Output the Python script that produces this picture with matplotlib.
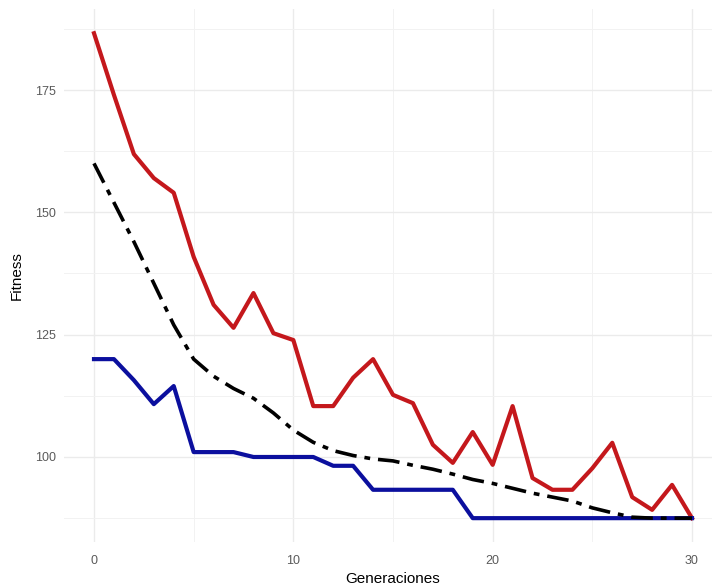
import matplotlib
matplotlib.use("Agg")
from matplotlib import pyplot as plt
import numpy as np

plt.rcParams["font.family"] = ["Liberation Sans", "DejaVu Sans"]

generaciones = np.arange(0, 31)

peor = [186.6, 174.0, 161.9, 157.0, 154.0, 140.9, 131.1, 126.4, 133.5, 125.3,
        123.9, 110.4, 110.4, 116.2, 120.0, 112.7, 111.0, 102.5, 98.8, 105.1,
        98.4, 110.4, 95.7, 93.3, 93.3, 97.7, 102.9, 91.8, 89.2, 94.3, 87.5]

mejor = [120.0, 120.0, 115.7, 110.8, 114.5, 101.0, 101.0, 101.0, 100.0, 100.0,
         100.0, 100.0, 98.2, 98.2, 93.3, 93.3, 93.3, 93.3, 93.3, 87.5,
         87.5, 87.5, 87.5, 87.5, 87.5, 87.5, 87.5, 87.5, 87.5, 87.5, 87.5]

promedio = [160.0, 152.0, 144.0, 135.5, 127.0, 120.0, 116.5, 114.0, 112.0, 109.0,
            105.5, 103.0, 101.3, 100.3, 99.6, 99.2, 98.3, 97.5, 96.5, 95.4,
            94.6, 93.6, 92.6, 91.8, 91.0, 89.6, 88.6, 87.7, 87.5, 87.5, 87.5]

fig = plt.figure(figsize=(7.12, 5.87), dpi=100)
ax = fig.add_axes([64.1 / 712, 1 - 542.4 / 587, 657.8 / 712, 533.4 / 587])

ax.plot(generaciones, peor, color="#C4181C", linewidth=3.0, solid_joinstyle="round")
ax.plot(generaciones, mejor, color="#0B0F9E", linewidth=3.0, solid_joinstyle="round")
ax.plot(generaciones, promedio, color="black", linewidth=2.6,
        dashes=(6.0, 2.2, 1.6, 2.2))

ymin = min(mejor)
ymax = max(peor)
pad = (ymax - ymin) * 0.05
ax.set_ylim(ymin - pad, ymax + pad)
ax.set_xlim(-1.5, 31.5)

ax.set_xticks([0, 10, 20, 30])
ax.set_yticks([100, 125, 150, 175])
ax.set_xticks([5, 15, 25], minor=True)
ax.set_yticks([87.5, 112.5, 137.5, 162.5, 187.5], minor=True)
ax.grid(True, which="major", color="#EBEBEB", linewidth=1.0)
ax.grid(True, which="minor", color="#F2F2F2", linewidth=0.7)
ax.set_axisbelow(True)
for s in ax.spines.values():
    s.set_visible(False)
ax.tick_params(which="both", length=0, labelsize=9, labelcolor="#5A5A5A")
ax.tick_params(axis="x", pad=9)
ax.tick_params(axis="y", pad=6)

ax.set_xlabel("Generaciones", fontsize=11, labelpad=4)
ax.set_ylabel("Fitness", fontsize=11, labelpad=8)

plt.savefig("out.png", dpi=100)
